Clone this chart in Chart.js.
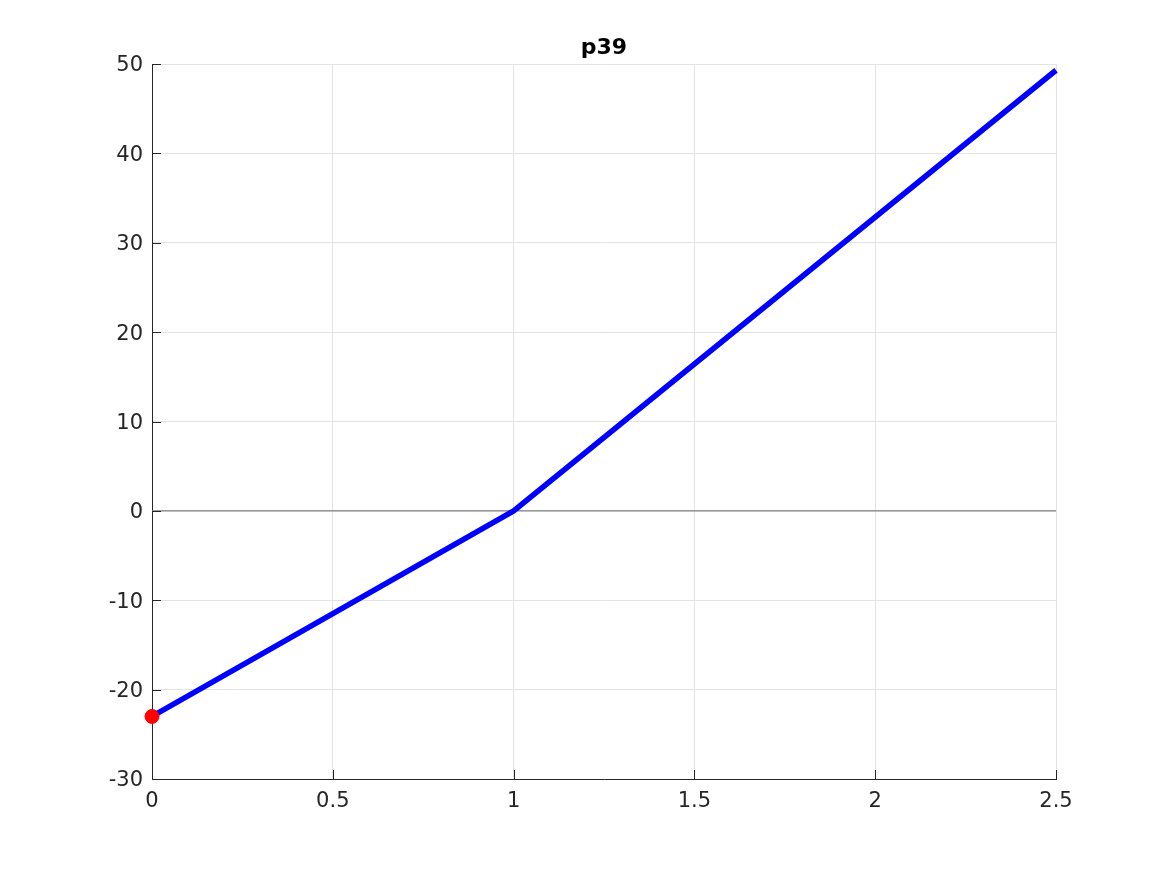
<!DOCTYPE html>
<html>
<head>
<meta charset="utf-8">
<script src="https://cdn.jsdelivr.net/npm/chart.js@4"></script>
<style>
  body { margin: 0; background: #fff; }
  canvas { display: block; }
</style>
</head>
<body>
<canvas id="p39Chart" width="1167" height="875"></canvas>
<script>
// curve breakpoints (x, y)
const curveX = [0, 1, 2.5];
const curveY = [-23, 0, 49.3];
// starting point marker
const startX = [0];
const startY = [-23];
// zero reference line
const zeroX = [0, 2.5];
const zeroY = [0, 0];
// axis ticks
const xTicks = [0, 0.5, 1, 1.5, 2, 2.5];
const yTicks = [-30, -20, -10, 0, 10, 20, 30, 40, 50];
const titleText = 'p39';

const toPoints = (xs, ys) => xs.map((x, i) => ({ x: x, y: ys[i] }));

// short tick marks inside the axes + title centred over the plot box, MATLAB style
const matlabDecor = {
  id: 'matlabDecor',
  afterDraw(chart) {
    const { ctx, chartArea, scales } = chart;
    ctx.save();
    ctx.strokeStyle = '#262626';
    ctx.lineWidth = 1;
    ctx.beginPath();
    yTicks.forEach(v => {
      const y = Math.round(scales.y.getPixelForValue(v)) + 0.5;
      ctx.moveTo(chartArea.left, y);
      ctx.lineTo(chartArea.left + 9, y);
    });
    xTicks.forEach(v => {
      const x = Math.round(scales.x.getPixelForValue(v)) + 0.5;
      ctx.moveTo(x, chartArea.bottom);
      ctx.lineTo(x, chartArea.bottom - 9);
    });
    ctx.stroke();

    ctx.fillStyle = '#000';
    ctx.font = 'bold 22px "DejaVu Sans"';
    ctx.textAlign = 'center';
    ctx.textBaseline = 'alphabetic';
    ctx.fillText(titleText, (chartArea.left + chartArea.right) / 2, 54);
    ctx.restore();
  }
};

const ctx = document.getElementById('p39Chart').getContext('2d');
new Chart(ctx, {
  type: 'scatter',
  data: {
    datasets: [
      {
        label: 'start',
        data: toPoints(startX, startY),
        backgroundColor: '#ff0000',
        borderColor: '#ff0000',
        pointRadius: 7,
        showLine: false,
        clip: false,
        order: 0
      },
      {
        label: 'p39',
        data: toPoints(curveX, curveY),
        borderColor: '#0000ff',
        borderWidth: 5.5,
        pointRadius: 0,
        showLine: true,
        clip: false,
        order: 1
      },
      {
        label: 'zero',
        data: toPoints(zeroX, zeroY),
        borderColor: '#808080',
        borderWidth: 1.2,
        pointRadius: 0,
        showLine: true,
        order: 2
      }
    ]
  },
  options: {
    responsive: false,
    animation: false,
    layout: { padding: { left: 0, right: 111, top: 64, bottom: 0 } },
    plugins: {
      legend: { display: false },
      tooltip: { enabled: false },
      title: { display: false }
    },
    scales: {
      x: {
        type: 'linear',
        min: 0,
        max: 2.5,
        afterFit(scale) { scale.height = 96; },
        afterBuildTicks(scale) { scale.ticks = xTicks.map(v => ({ value: v })); },
        grid: { color: '#e3e3e3', drawTicks: false },
        border: { color: '#262626', width: 1 },
        ticks: {
          color: '#262626',
          padding: 10,
          maxRotation: 0,
          callback: v => String(v),
          font: { family: 'DejaVu Sans', size: 21 }
        }
      },
      y: {
        type: 'linear',
        min: -30,
        max: 50,
        afterFit(scale) { scale.width = 152; },
        afterBuildTicks(scale) { scale.ticks = yTicks.map(v => ({ value: v })); },
        grid: { color: '#e3e3e3', drawTicks: false },
        border: { color: '#262626', width: 1 },
        ticks: {
          color: '#262626',
          padding: 9,
          labelOffset: 2,
          callback: v => String(v),
          font: { family: 'DejaVu Sans', size: 21 }
        }
      }
    }
  },
  plugins: [matlabDecor]
});
</script>
</body>
</html>
